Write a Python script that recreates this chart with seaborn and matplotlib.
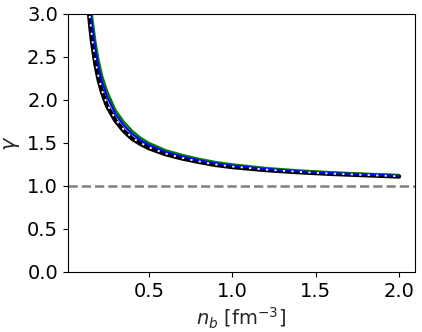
import numpy as np
import pandas as pd
import matplotlib
matplotlib.use("Agg")
import matplotlib.pyplot as plt
import seaborn as sns

# data -------------------------------------------------------------------------
n_b = [0.11, 0.12, 0.13, 0.14, 0.15, 0.16, 0.18, 0.20, 0.22, 0.25, 0.30, 0.35,
       0.40, 0.45, 0.50, 0.60, 0.70, 0.80, 0.90, 1.00, 1.20, 1.40, 1.60, 1.80, 2.00]

gamma_black = [4.10, 3.65, 3.30, 3.05, 2.85, 2.68, 2.42, 2.23, 2.09, 1.93, 1.76, 1.64,
               1.55, 1.49, 1.44, 1.37, 1.32, 1.28, 1.245, 1.22, 1.185, 1.16, 1.14, 1.125, 1.11]
gamma_white = [4.15, 3.70, 3.35, 3.09, 2.89, 2.72, 2.45, 2.26, 2.11, 1.95, 1.775, 1.655,
               1.56, 1.50, 1.45, 1.375, 1.325, 1.285, 1.25, 1.225, 1.19, 1.163, 1.143, 1.127, 1.112]
gamma_blue = [4.35, 3.90, 3.55, 3.27, 3.05, 2.87, 2.58, 2.37, 2.21, 2.04, 1.835, 1.705,
              1.605, 1.532, 1.477, 1.395, 1.343, 1.298, 1.262, 1.237, 1.197, 1.169, 1.149, 1.133, 1.118]
gamma_green = [4.50, 4.05, 3.68, 3.38, 3.16, 2.97, 2.67, 2.45, 2.28, 2.10, 1.88, 1.745,
               1.64, 1.56, 1.50, 1.415, 1.36, 1.314, 1.277, 1.25, 1.208, 1.179, 1.158, 1.141, 1.127]

sns.set_theme(style="ticks")
plt.rcParams['font.family'] = ['DejaVu Sans']

fig, ax = plt.subplots(figsize=(4.22, 3.32), dpi=100)
fig.subplots_adjust(left=0.161, right=0.983, bottom=0.181, top=0.958)

sns.lineplot(x=n_b, y=gamma_black, color="black", lw=3.2, ax=ax)
sns.lineplot(x=n_b, y=gamma_green, color="green", lw=1.8, ax=ax)
sns.lineplot(x=n_b, y=gamma_blue, color="blue", lw=1.5, ax=ax)
sns.lineplot(x=n_b, y=gamma_white, color="white", lw=1.3, ls=(0, (1.2, 3.5)), ax=ax)

ax.axhline(1.0, color="grey", ls="--", lw=1.8)

ax.set_ylim(0, 3)
ax.set_xticks([0.5, 1.0, 1.5, 2.0])
ax.set_xlabel(r"$n_b$ [fm$^{-3}$]", fontsize=14)
ax.set_ylabel(r"$\gamma$", fontsize=15)
ax.tick_params(labelsize=14, colors="black", length=3.5, width=0.8, pad=3.5)
for s in ax.spines.values():
    s.set_color("black")
    s.set_linewidth(0.8)

fig.savefig("out.png", dpi=100)
